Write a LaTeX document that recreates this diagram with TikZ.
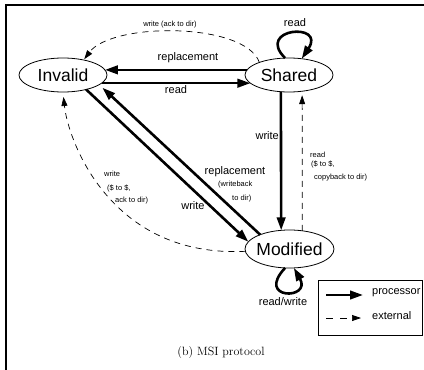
\documentclass[tikz,border=0pt]{standalone}
\usepackage{fontspec}
\newfontfamily\hv{Liberation Sans}
\usetikzlibrary{arrows.meta,shapes.geometric}
\newcommand\statetxt[1]{\raisebox{-0.358em}[0pt][0pt]{\makebox[0pt]{#1}}}
\begin{document}
\begin{tikzpicture}[x=1pt,y=-1pt,
 st/.style={ellipse,draw,line width=0.8pt,minimum width=88pt,minimum height=34pt,inner sep=0pt,outer sep=0pt,font=\hv\fontsize{17.5}{20}\selectfont},
 proc/.style={line width=2.6pt,-{Triangle[length=13pt,width=8.5pt]}},
 ext/.style={line width=0.7pt,dash pattern=on 6pt off 5pt,-{Triangle[length=9pt,width=6pt]}},
 lab/.style={font=\hv\fontsize{11}{13}\selectfont,inner sep=0pt},
 sm/.style={font=\hv\fontsize{7.5}{9}\selectfont,inner sep=0pt,align=left},
 frame/.style={line width=1.8pt},
]
\useasboundingbox (0,0) rectangle (424,370);
\draw[frame] (6,372) -- (6,5) -- (426,5);

% states
\node[st] (I) at (63,75) {\statetxt{Invalid}};
\node[st] (S) at (289,75) {\statetxt{Shared}};
\node[st,minimum width=89pt,minimum height=38pt] (M) at (289.5,249) {\statetxt{Modified}};

% Invalid <-> Shared
\draw[proc] (S.173) -- (I.7);
\node[lab] (lrep1) at (188,58) {replacement};
\draw[proc] (I.-12) -- (S.192);
\node[lab] (lread1) at (176,90) {read};

% Shared self loop
\draw[proc] (S.103) .. controls (255,28) and (326,22) .. (S.52);
\node[lab] (lread2) at (295,23) {read};

% Shared -> Modified
\draw[proc] (S.244.4) -- (M.114.5);
\node[lab,anchor=east] (lwr1) at (279,136) {write};

% Modified -> Shared (external)
\draw[ext,shorten >=4pt] (M.55.5) -- (S.-51.2);
\node[sm,anchor=north west] (lrd) at (310,152) {read\\[-0.5pt]\hspace*{1pt}(\$ to \$,\\[4.5pt]\hspace*{4pt}copyback to dir)};

% Invalid -> Modified (write)
\draw[proc] (I.-32) -- (M.170.4);
\node[lab] (lwr2) at (193,206) {write};

% Modified -> Invalid (replacement)
\draw[proc,shorten >=4.5pt] (M.154) -- (I.-15.5);
\node[lab] (lrep2) at (235,172) {replacement};
\node[sm,anchor=west] (lwb1) at (218,185) {(writeback};
\node[sm,anchor=west] (lwb2) at (232,199) {to dir)};

% Shared -> Invalid (external, top)
\draw[ext,shorten >=1pt] (S.157) .. controls (245,22) and (112,22) .. (I.36);
\node[sm] (lack) at (170,25) {write (ack to dir)};

% Modified -> Invalid (external, bottom)
\draw[ext,shorten >=5pt] (M.183) .. controls (110,258) and (68,140) .. (I.-90);
\node[sm,anchor=north west] (lw3) at (104,171) {write\\[4.5pt]\hspace*{3pt}(\$ to \$,\\[3.5pt]\hspace*{11pt}ack to dir)};

% Modified self loop
\draw[proc] (M.-103) .. controls (255,300) and (312,300) .. (M.-77);
\node[lab] (lrw) at (283,302) {read/write};

% legend
\node[draw,line width=0.8pt,minimum width=104pt,minimum height=55pt,inner sep=0pt] (leg) at (370,307.5) {};
\coordinate (lp1) at (326,295);
\coordinate (lp2) at (363,295);
\coordinate (le1) at (326,318);
\coordinate (le2) at (361,318);
\draw[proc] (lp1) -- (lp2);
\draw[ext,dash pattern=on 7pt off 7pt] (le1) -- (le2);
\node[lab,anchor=west] (lproc) at (372,293) {processor};
\node[lab,anchor=west] (lext) at (372,316) {external};

% caption
\node[font=\fontsize{12}{14}\selectfont,inner sep=0pt] (cap) at (221,353) {(b) MSI protocol};
\end{tikzpicture}
\end{document}
